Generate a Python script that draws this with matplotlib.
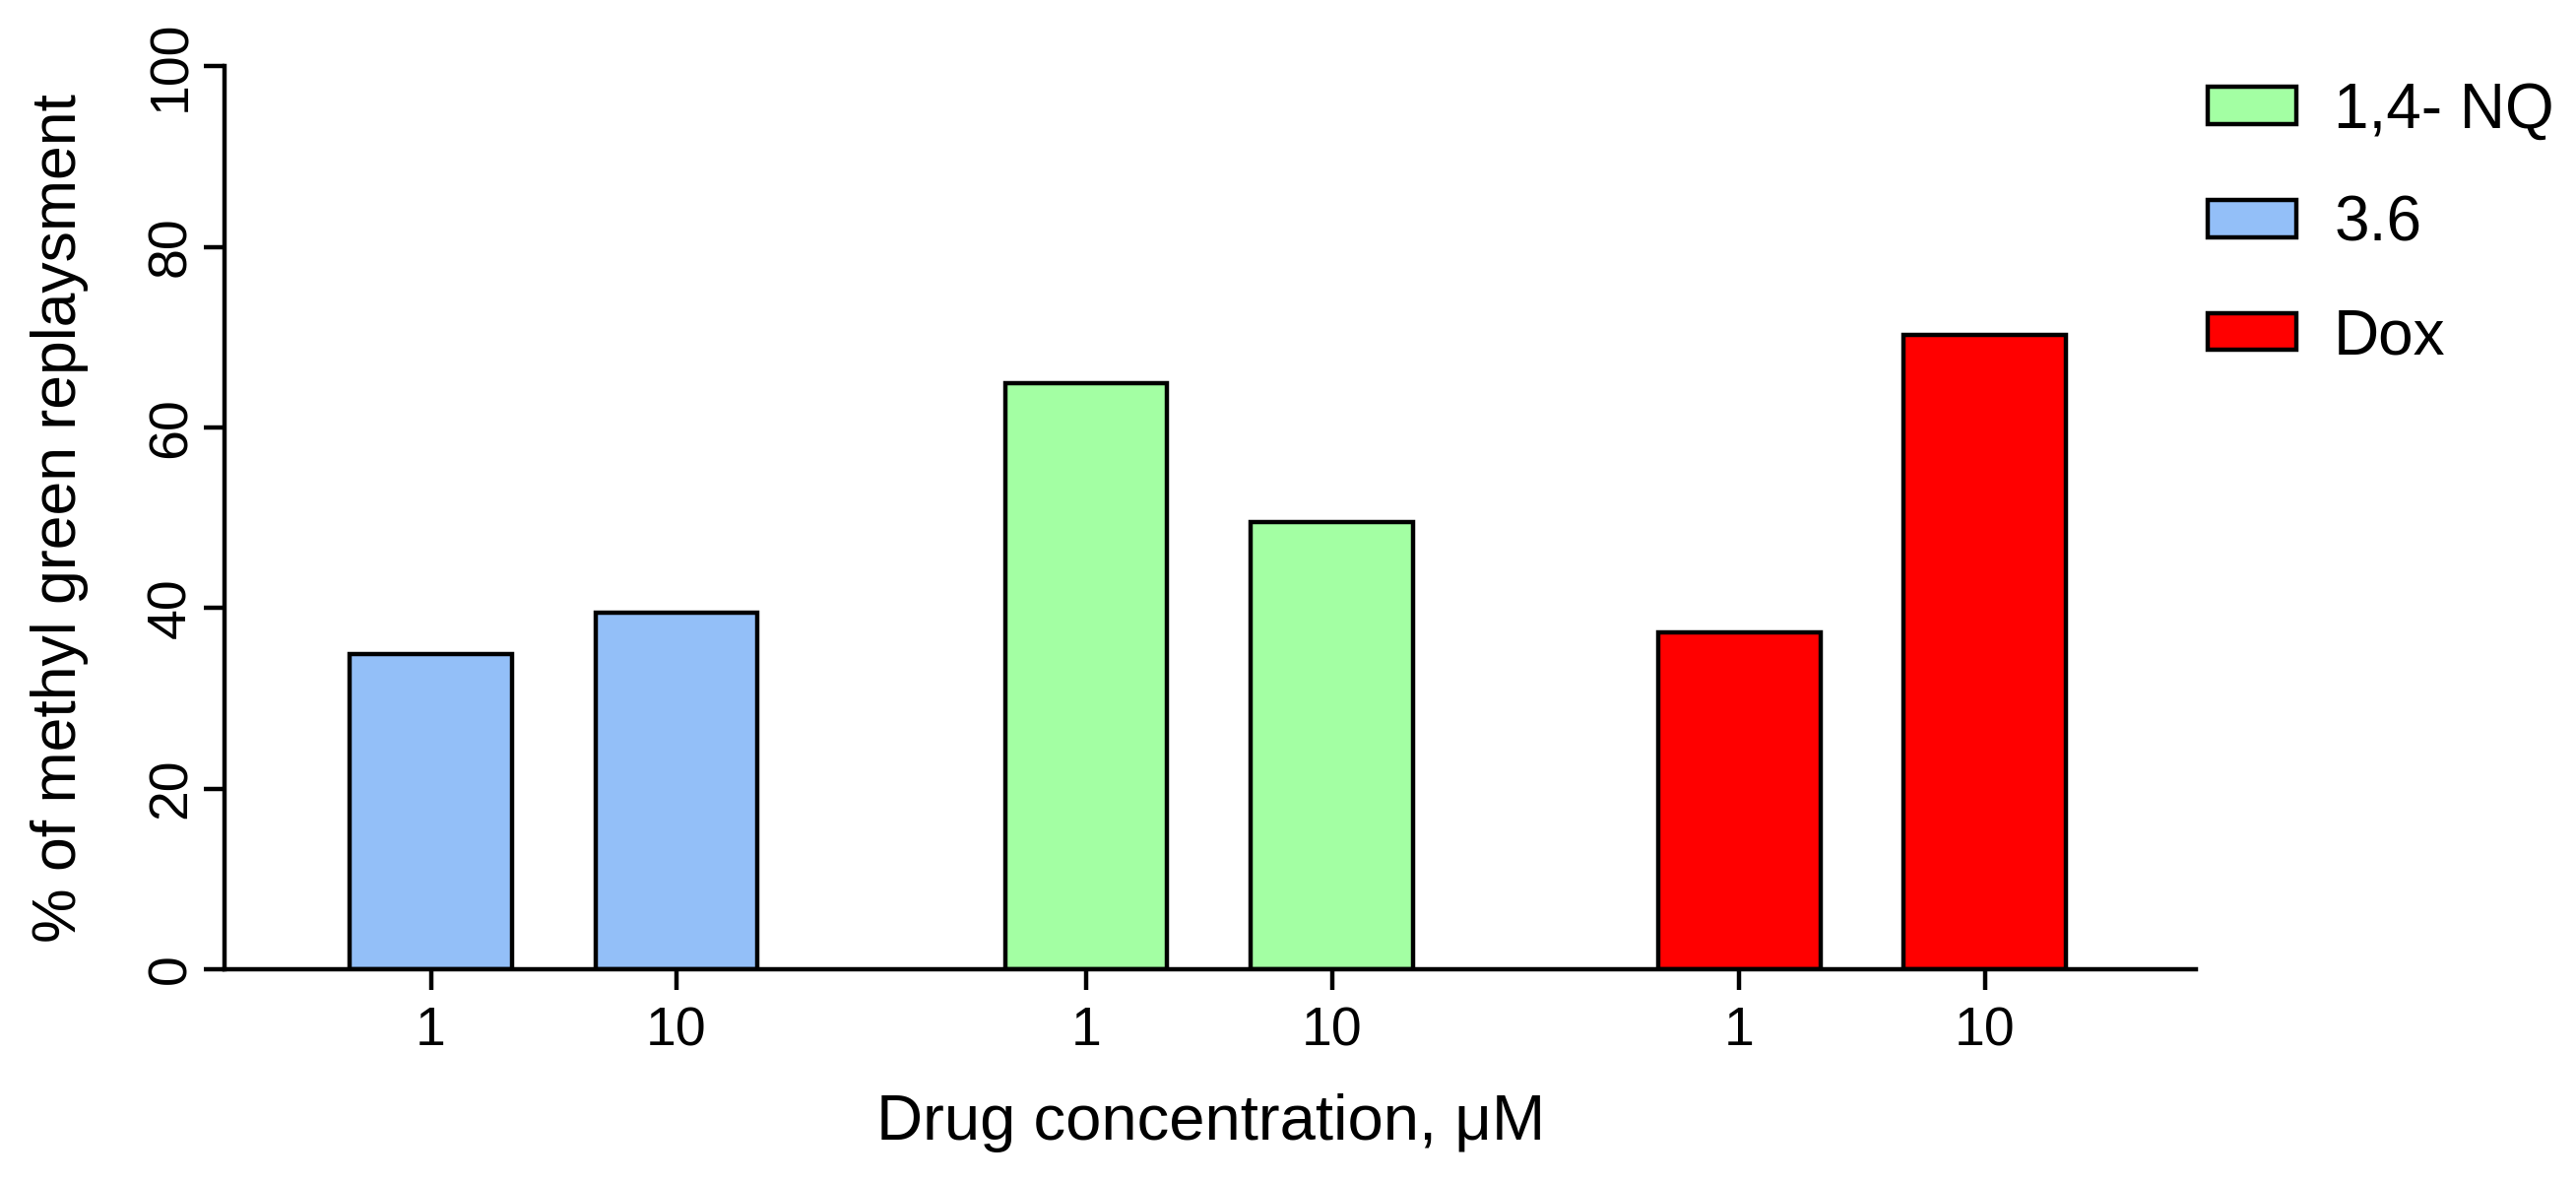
import numpy as np
import matplotlib.pyplot as plt
from matplotlib.patches import Patch

plt.rcParams['font.family'] = ['Liberation Sans', 'DejaVu Sans']

# data
groups = ['3.6', '1,4- NQ', 'Dox']
conc_labels = ['1', '10', '1', '10', '1', '10']
vals_36 = [34.9, 39.5]
vals_nq = [64.9, 49.5]
vals_dox = [37.3, 70.2]

colors = {'3.6': '#93bff8', '1,4- NQ': '#a3ffa3', 'Dox': '#ff0000'}

# bar positions (two bars per group, gap between groups)
pos = np.array([0, 1, 2.67, 3.67, 5.33, 6.33])
w = 0.66

fig = plt.figure(figsize=(26.16, 12.01), dpi=100)
ax = fig.add_axes([0.0872, 0.1807, 0.7653, 0.7633])

ax.bar(pos[0:2], vals_36, w, color=colors['3.6'], edgecolor='black', linewidth=3.2)
ax.bar(pos[2:4], vals_nq, w, color=colors['1,4- NQ'], edgecolor='black', linewidth=3.2)
ax.bar(pos[4:6], vals_dox, w, color=colors['Dox'], edgecolor='black', linewidth=3.2)

ax.set_xlim(-0.84, 7.19)
ax.set_ylim(0, 100)
ax.set_yticks([0, 20, 40, 60, 80, 100])
ax.set_yticklabels(['0', '20', '40', '60', '80', '100'], rotation=90, va='center')
ax.set_xticks(pos)
ax.set_xticklabels(conc_labels)

for s in ['top', 'right']:
    ax.spines[s].set_visible(False)
for s in ['left', 'bottom']:
    ax.spines[s].set_linewidth(3.2)
ax.tick_params(axis='both', width=3.2, length=15, labelsize=40, direction='out')
ax.tick_params(axis='x', pad=12)
ax.tick_params(axis='y', pad=5)

ax.set_xlabel('Drug concentration, μM', fontsize=47, labelpad=26)
ax.set_ylabel('% of methyl green replaysment', fontsize=45, labelpad=42)

handles = [Patch(facecolor=colors[g], edgecolor='black', linewidth=3.2) for g in ['1,4- NQ', '3.6', 'Dox']]
ax.legend(handles, ['1,4- NQ', '3.6', 'Dox'], loc='upper left', bbox_to_anchor=(0.845, 0.958),
          bbox_transform=fig.transFigure, frameon=False, fontsize=46,
          handlelength=1.4, handleheight=0.53, handletextpad=0.6, labelspacing=0.86, borderpad=0)

fig.savefig('out.png', dpi=100)
